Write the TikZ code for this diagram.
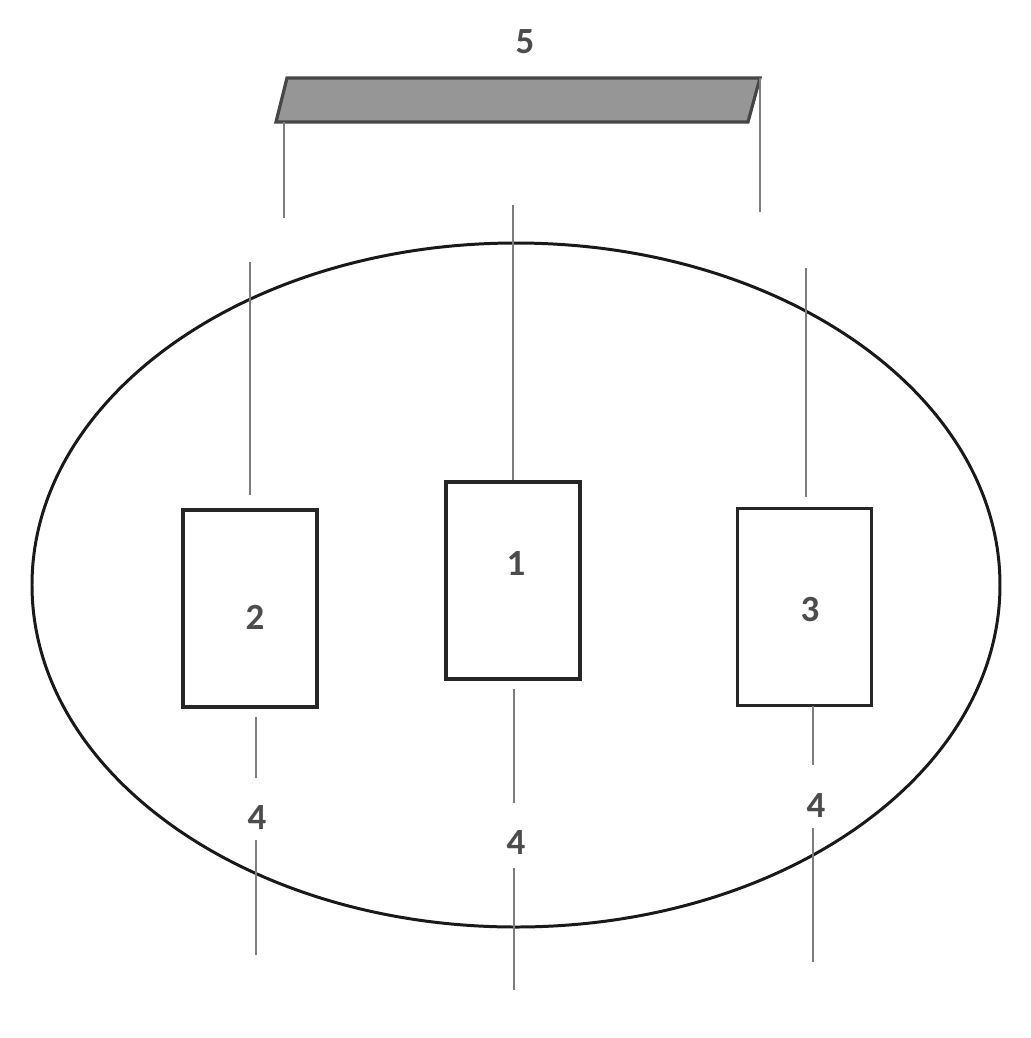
\documentclass[tikz,border=0pt]{standalone}
\usepackage{fontspec}
\setmainfont{Carlito}
\usetikzlibrary{positioning}
\usepackage{xcolor}
\definecolor{wiregray}{RGB}{125,125,125}
\definecolor{barfill}{RGB}{150,150,150}
\definecolor{bardraw}{RGB}{70,70,70}

\begin{document}
\begin{tikzpicture}[x=0.01cm, y=-0.01cm, box/.style = {draw=black!85, line width=1pt, minimum width=1.34cm, minimum height=1.97cm, inner sep=0pt}, wire/.style = {draw=wiregray, line width=0.6pt}, num/.style = {font=\fontsize{10.5}{12}\selectfont\bfseries, text=black!70, inner sep=1pt}]
		\useasboundingbox (0,0) rectangle (1031,1038);
		% outer ellipse
		\draw[black!90, line width=0.85pt] (516,585) ellipse [x radius=484, y radius=342];
		% the bar on top
		\draw[fill=barfill, draw=bardraw, line width=0.9pt] (287,78) -- (760,78) -- (748,122) -- (276,122) -- cycle;
		\node[num] (5) at (525,42) {5};
		\coordinate (barL) at (284,122);
		\coordinate (barR) at (760,78);
		\coordinate (barLend) at (284,218);
		\coordinate (barRend) at (760,212);
		% boxes
		\node[box] (b2) at (250,608.5) {};
		\node[box] (b1) at (513,580.5) {};
		\node[box] (b3) at (804.5,607) {};
		\node[num] (n2) at (255,617) {2};
		\node[num] (n1) at (516,563) {1};
		\node[num] (n3) at (810,610) {3};
		% labels below
		\node[num] (f2) at (257,818) {4};
		\node[num] (f1) at (516,843) {4};
		\node[num] (f3) at (816,806) {4};
		% free ends
		\coordinate (t1) at (513,205);
		\coordinate (t2a) at (250,262);
		\coordinate (t2b) at (250,495);
		\coordinate (t3a) at (806,268);
		\coordinate (t3b) at (806,497);
		\coordinate (d2a) at (256,717);
		\coordinate (d2b) at (256,778);
		\coordinate (d2c) at (256,840);
		\coordinate (d2d) at (256,955);
		\coordinate (d1a) at (514,689);
		\coordinate (d1b) at (514,803);
		\coordinate (d1c) at (514,868);
		\coordinate (d1d) at (514,990);
		\coordinate (d3a) at (813,706);
		\coordinate (d3b) at (813,765);
		\coordinate (d3c) at (813,828);
		\coordinate (d3d) at (813,962);
		% wires
		\draw[wire] (barL) -- (barLend);
		\draw[wire] (barR) -- (barRend);
		\draw[wire] (b1.north) -- (t1);
		\draw[wire] (t2a) -- (t2b);
		\draw[wire] (t3a) -- (t3b);
		\draw[wire] (d2a) -- (d2b);
		\draw[wire] (d2c) -- (d2d);
		\draw[wire] (d1a) -- (d1b);
		\draw[wire] (d1c) -- (d1d);
		\draw[wire] (d3a) -- (d3b);
		\draw[wire] (d3c) -- (d3d);
	\end{tikzpicture}
\end{document}
